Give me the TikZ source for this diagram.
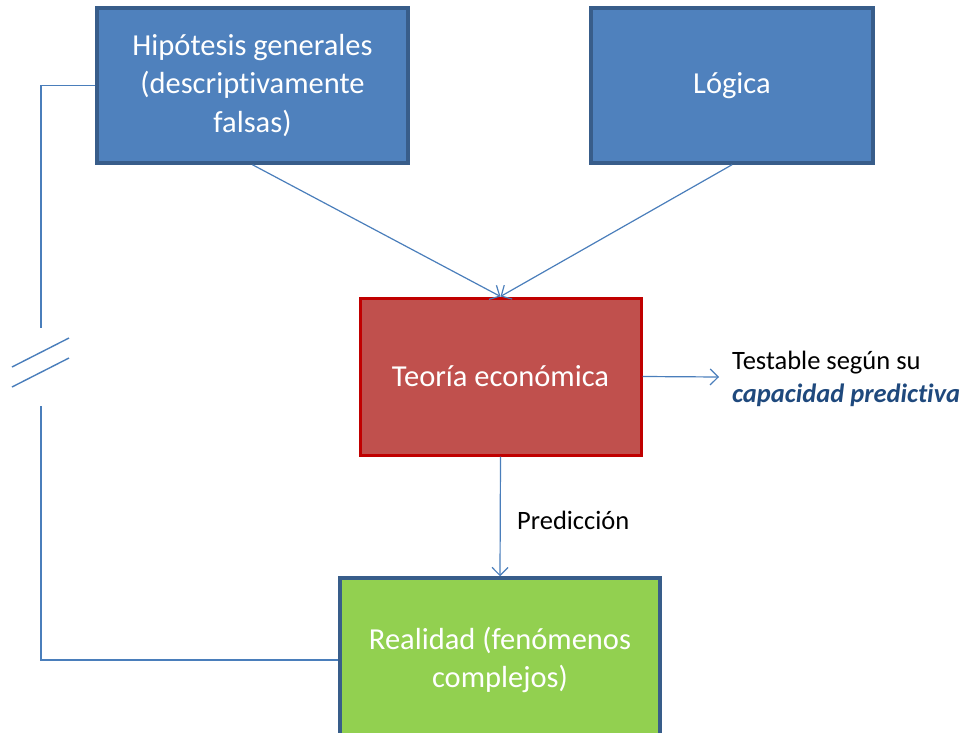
\documentclass[tikz,border=0pt]{standalone}
\usepackage{fontspec}
\setmainfont{Carlito}[Ligatures={NoCommon}]
\usetikzlibrary{arrows.meta}
\definecolor{bfill}{HTML}{4F81BD}
\definecolor{bdraw}{HTML}{385D8A}
\definecolor{rfill}{HTML}{C0504D}
\definecolor{rdraw}{HTML}{C00000}
\definecolor{gfill}{HTML}{92D050}
\definecolor{lnk}{HTML}{4A7EBB}
\definecolor{dblue}{HTML}{1F497D}
\tikzset{
  box/.style={rectangle, line width=3.5pt, text=white, align=center,
    font=\fontsize{30.5}{38.5}\selectfont, inner sep=0pt},
  bluebox/.style={box, fill=bfill, draw=bdraw},
  redbox/.style={box, fill=rfill, draw=rdraw, line width=3pt},
  greenbox/.style={box, fill=gfill, draw=bdraw},
  arr/.style={draw=lnk, line width=1.2pt, -{Straight Barb[length=8pt,width=16pt,line width=1.2pt]}},
  ln/.style={draw=lnk, line width=1.4pt},
  lbl/.style={font=\fontsize{26.5}{33}\selectfont, text=black, inner sep=0pt}
}
\begin{document}
\begin{tikzpicture}[x=1pt,y=-1pt]
\useasboundingbox (0,0) rectangle (964,733);
\clip (0,0) rectangle (964,733);
\node[bluebox, minimum width=311pt, minimum height=155pt] (hip) at (252.5,85.5)
  {Hipótesis generales\\(descriptivamente\\falsas)};
\node[bluebox, minimum width=282pt, minimum height=155pt] (log) at (732,85.5) {Lógica};
\node[redbox, minimum width=281pt, minimum height=157pt] (teo) at (500.5,376.5) {Teoría económica};
\node[greenbox, minimum width=320pt, minimum height=164pt] (rea) at (500,660)
  {Realidad (fenómenos\\complejos)};
\node[lbl, anchor=west, align=left] (tst) at (732,379)
  {Testable según su\\\textcolor{dblue}{\textbf{\textit{capacidad predictiva}}}};
\node[lbl, anchor=west] (pre) at (517,520) {Predicción};
\draw[arr] (hip.south) -- (teo.north);
\draw[arr] (log.south) -- (teo.north);
\coordinate (tr) at (719,377);
\draw[arr] (teo.east) -- (tr);
\draw[arr] (teo.south) -- (rea.north);
\coordinate (b1) at (41,328);
\coordinate (b2) at (41,406);
\coordinate (s1a) at (12,367);
\coordinate (s1b) at (69,338);
\coordinate (s2a) at (12,387);
\coordinate (s2b) at (69,358);
\draw[ln] (hip.west) -| (b1);
\draw[ln] (b2) |- (rea.west);
\draw[ln] (s1a) -- (s1b);
\draw[ln] (s2a) -- (s2b);
\end{tikzpicture}
\end{document}
